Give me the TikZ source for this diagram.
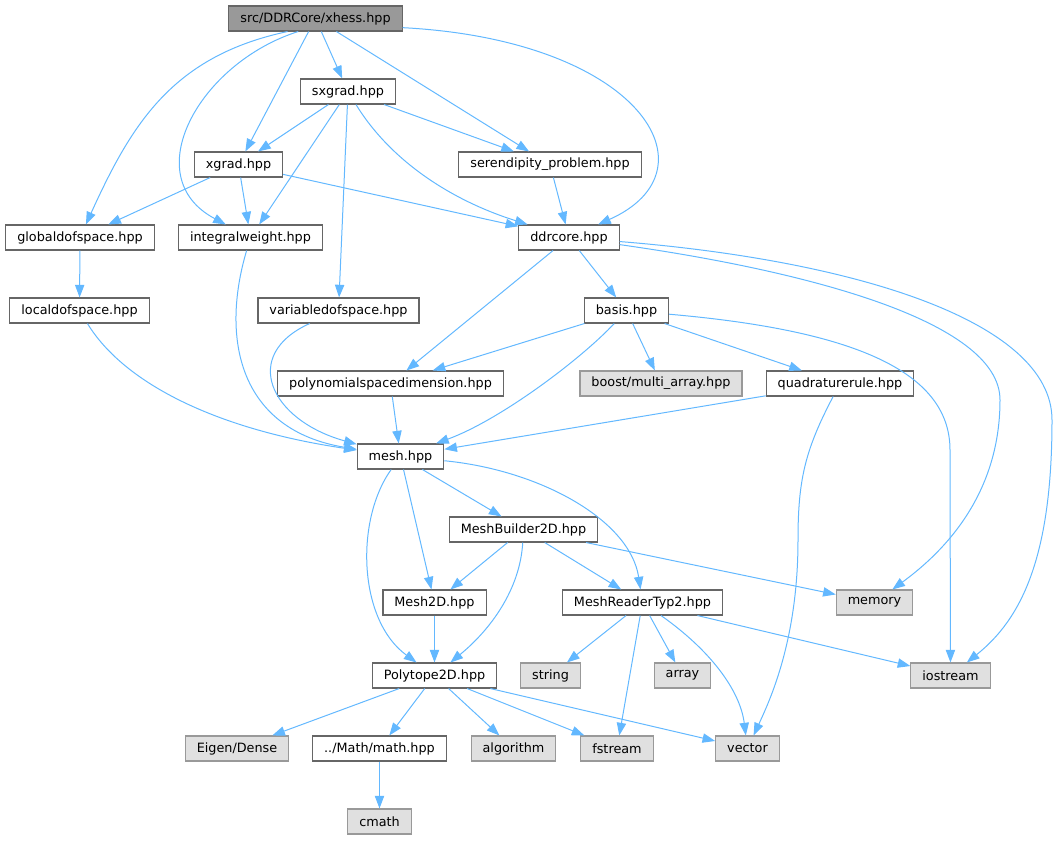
\documentclass[tikz,border=0pt]{standalone}
\usepackage{fontspec}
\setmainfont{DejaVu Sans}
\usetikzlibrary{positioning}
\usetikzlibrary{arrows.meta}
\definecolor{edgeblue}{HTML}{63B8FF}
\definecolor{boxgray}{HTML}{666666}
\definecolor{extgray}{HTML}{999999}
\definecolor{extfill}{HTML}{E0E0E0}

\begin{document}
\begin{tikzpicture}[x=0.75pt,y=-0.75pt,
% File box styles
    file/.style={rectangle,draw=boxgray,fill=white,line width=0.8pt,
		minimum height=18.75pt,inner xsep=8.6pt,inner ysep=0pt,
		font=\fontsize{9.6}{11}\selectfont},
    root/.style={file,fill=extgray},
    ext/.style={file,draw=extgray,fill=extfill},
% Include edge style
    dep/.style={draw=edgeblue,line width=0.75pt,
		-{Triangle[length=9.5pt,width=7pt]}}
    ]
  \useasboundingbox (0,0) rectangle (1057,843);

  \node (xhess) [root] at (315.5,18.5) {src/DDRCore/xhess.hpp};
  \node (sxgrad) [file] at (348,91.5) {sxgrad.hpp};
  \node (xgrad) [file] at (238.5,164.5) {xgrad.hpp};
  \node (serend) [file] at (550,164.5) {serendipity\_problem.hpp};
  \node (gdof) [file] at (80,237.5) {globaldofspace.hpp};
  \node (iweight) [file] at (250.5,237.5) {integralweight.hpp};
  \node (ddrcore) [file] at (569,237.5) {ddrcore.hpp};
  \node (ldof) [file] at (79.5,310.5) {localdofspace.hpp};
  \node (vdof) [file] at (338.5,310.5) {variabledofspace.hpp};
  \node (basis) [file] at (626.5,310.5) {basis.hpp};
  \node (polydim) [file] at (390.5,383.5) {polynomialspacedimension.hpp};
  \node (boost) [ext] at (661,383.5) {boost/multi\_array.hpp};
  \node (quadrule) [file] at (840,383.5) {quadraturerule.hpp};
  \node (mesh) [file] at (400.5,456.5) {mesh.hpp};
  \node (mbuild) [file] at (523.5,529.5) {MeshBuilder2D.hpp};
  \node (meshtwod) [file] at (434.5,602.5) {Mesh2D.hpp};
  \node (mreader) [file] at (642.5,602.5) {MeshReaderTyp2.hpp};
  \node (memory) [ext] at (874.5,602.5) {memory};
  \node (polytope) [file] at (434.5,675.5) {Polytope2D.hpp};
  \node (string) [ext] at (550.5,675.5) {string};
  \node (array) [ext] at (682.5,675.5) {array};
  \node (iostream) [ext] at (950.5,675.5) {iostream};
  \node (eigen) [ext] at (237,748.5) {Eigen/Dense};
  \node (math) [file] at (379.5,748.5) {../Math/math.hpp};
  \node (algorithm) [ext] at (513.5,748.5) {algorithm};
  \node (fstream) [ext] at (617,748.5) {fstream};
  \node (vector) [ext] at (747.5,748.5) {vector};
  \node (cmath) [ext] at (379.5,821.5) {cmath};

% xhess.hpp
\draw[dep] (xhess) -- (sxgrad);
\draw[dep] (xhess) -- (xgrad);
\draw[dep] (xhess) -- (serend);
\draw[dep] (xhess.205) .. controls (173,56) and (132,123) .. (gdof);
\draw[dep] (xhess.217) .. controls (199,63) and (136,177) .. (iweight);
\draw[dep] (xhess.-6) .. controls (640,40) and (720,170) .. (ddrcore);
% sxgrad.hpp, xgrad.hpp
\draw[dep] (sxgrad) -- (xgrad);
\draw[dep] (sxgrad) -- (iweight);
\draw[dep] (sxgrad) -- (vdof);
\draw[dep] (sxgrad) -- (serend);
\draw[dep] (sxgrad) .. controls (390,160) and (450,200) .. (ddrcore);
\draw[dep] (xgrad) -- (gdof);
\draw[dep] (xgrad) -- (iweight);
\draw[dep] (xgrad) -- (ddrcore);
\draw[dep] (serend) -- (ddrcore);
\draw[dep] (gdof) -- (ldof);
% into mesh.hpp
\draw[dep] (iweight) .. controls (220,340) and (240,430) .. (mesh);
\draw[dep] (ldof) .. controls (125,385) and (220,430) .. (mesh);
\draw[dep] (vdof) .. controls (240,355) and (270,420) .. (mesh);
% ddrcore.hpp
\draw[dep] (ddrcore) -- (basis);
\draw[dep] (ddrcore) -- (polydim);
\draw[dep] (ddrcore) .. controls (800,270) and (1000,320) .. (1000,400)
	.. controls (1000,480) and (960,540) .. (memory);
\draw[dep] (ddrcore) .. controls (850,260) and (1052,320) .. (1052,420)
	.. controls (1052,560) and (1020,620) .. (iostream);
% basis.hpp
\draw[dep] (basis) -- (polydim);
\draw[dep] (basis) -- (boost);
\draw[dep] (basis) -- (quadrule);
\draw[dep] (basis) .. controls (580,360) and (500,420) .. (mesh);
\draw[dep] (basis) .. controls (850,330) and (950,370) .. (950,450) -- (iostream);
\draw[dep] (polydim) -- (mesh);
\draw[dep] (quadrule) -- (mesh);
\draw[dep] (quadrule) .. controls (805,450) and (798,480) .. (798,540)
	.. controls (798,640) and (770,700) .. (vector);
% mesh.hpp
\draw[dep] (mesh) -- (mbuild);
\draw[dep] (mesh) -- (meshtwod);
\draw[dep] (mesh) .. controls (540,470) and (630,520) .. (mreader);
\draw[dep] (mesh) .. controls (355,520) and (358,620) .. (polytope);
% MeshBuilder2D.hpp, Mesh2D.hpp
\draw[dep] (mbuild) -- (meshtwod);
\draw[dep] (mbuild) -- (mreader);
\draw[dep] (mbuild) .. controls (520,590) and (490,630) .. (polytope);
\draw[dep] (mbuild) -- (memory);
\draw[dep] (meshtwod) -- (polytope);
% MeshReaderTyp2.hpp
\draw[dep] (mreader) -- (string);
\draw[dep] (mreader) -- (fstream);
\draw[dep] (mreader) -- (array);
\draw[dep] (mreader) .. controls (710,650) and (740,690) .. (vector);
\draw[dep] (mreader) -- (iostream);
% Polytope2D.hpp
\draw[dep] (polytope) -- (eigen);
\draw[dep] (polytope) -- (math);
\draw[dep] (polytope) -- (algorithm);
\draw[dep] (polytope) -- (fstream);
\draw[dep] (polytope) -- (vector);
\draw[dep] (math) -- (cmath);

\end{tikzpicture}
\end{document}
